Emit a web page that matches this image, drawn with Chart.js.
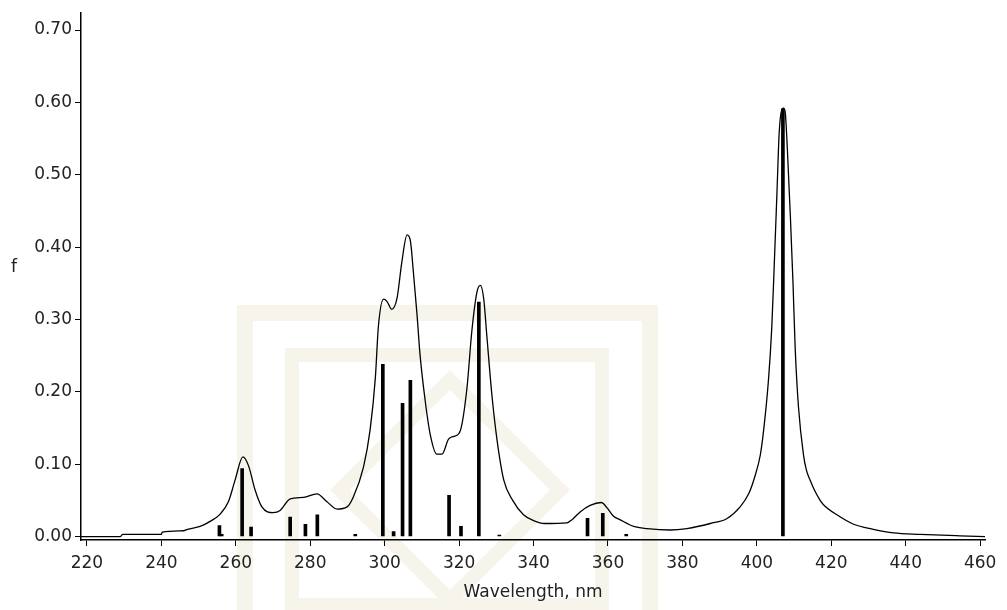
<!DOCTYPE html>
<html>
<head>
<meta charset="utf-8">
<script src="https://cdn.jsdelivr.net/npm/chart.js@4"></script>
<style>
  body { margin: 0; background: #fff; }
  #wrap { width: 1007px; height: 610px; }
</style>
</head>
<body>
<div id="wrap"><canvas id="spectrumChart" width="1007" height="610"></canvas></div>
<script>
// Calculated transitions (sticks): wavelength in nm and oscillator strength f
const stickWavelengths = [255.6, 256.2, 261.7, 264.1, 274.6, 278.7, 281.9, 292.1, 299.5, 302.4,
  304.8, 306.9, 317.3, 320.5, 325.3, 330.8, 354.5, 358.6, 364.9, 407.0];
const stickStrengths = [0.015, 0.003, 0.094, 0.013, 0.027, 0.017, 0.030, 0.003, 0.238, 0.007,
  0.184, 0.216, 0.057, 0.014, 0.324, 0.002, 0.025, 0.032, 0.003, 0.591];

// Broadened envelope
const curveWavelengths = [218.4, 229, 229.6, 240, 240.2, 246, 247, 250.4, 253.1, 255.8,
  258, 259.8, 261.9, 263.4, 265.2, 267, 270, 271.9, 274.6, 278.2,
  281.8, 284.5, 287.2, 289.9, 291.6, 294.3, 296.1, 297.5, 298.3, 299.7,
  300.6, 301.9, 303.3, 304.6, 306.0, 306.9, 307.7, 308.7, 309.5, 310.9,
  312.2, 314.0, 315.4, 317.2, 318.9, 320.3, 322.1, 323.4, 324.8, 325.7,
  326.6, 327.5, 328.8, 330.2, 332.0, 334.4, 337.3, 340.0, 343.0, 349.0,
  350.5, 352.5, 355.2, 358.2, 359.7, 361.5, 363.3, 366.9, 370.5, 376.7,
  381.2, 387.5, 392.0, 395.5, 397.8, 399.4, 400.9, 401.8, 403.1, 404.0,
  404.7, 405.4, 406.0, 406.7, 407.1, 407.6, 408.2, 409.0, 409.7, 410.3,
  411.2, 412.5, 413.3, 414.3, 415.3, 417.0, 417.9, 421.5, 426.0, 431.3,
  436.7, 443.9, 454.6, 461.3];
const curveStrengths = [0.000, 0.000, 0.003, 0.003, 0.006, 0.008, 0.010, 0.014, 0.021, 0.031,
  0.048, 0.078, 0.110, 0.098, 0.064, 0.041, 0.033, 0.036, 0.052, 0.054,
  0.059, 0.048, 0.038, 0.041, 0.055, 0.096, 0.148, 0.220, 0.290, 0.328,
  0.325, 0.314, 0.329, 0.379, 0.417, 0.409, 0.366, 0.306, 0.251, 0.187,
  0.142, 0.114, 0.114, 0.135, 0.139, 0.146, 0.205, 0.283, 0.338, 0.347,
  0.329, 0.274, 0.196, 0.133, 0.078, 0.050, 0.030, 0.022, 0.018, 0.019,
  0.024, 0.034, 0.043, 0.047, 0.040, 0.028, 0.023, 0.014, 0.011, 0.009,
  0.011, 0.018, 0.025, 0.041, 0.059, 0.082, 0.112, 0.146, 0.215, 0.288,
  0.379, 0.475, 0.558, 0.590, 0.592, 0.587, 0.535, 0.443, 0.352, 0.260,
  0.178, 0.114, 0.092, 0.078, 0.066, 0.050, 0.044, 0.030, 0.017, 0.010,
  0.005, 0.003, 0.001, 0.000];

const xTicks = [220, 240, 260, 280, 300, 320, 340, 360, 380, 400, 420, 440, 460];
const yTicks = [0, 0.1, 0.2, 0.3, 0.4, 0.5, 0.6, 0.7];

const sticks = stickWavelengths.map((x, i) => ({ x: x, y: stickStrengths[i] }));
const curve = curveWavelengths.map((x, i) => ({ x: x, y: curveStrengths[i] }));

// faint watermark behind the plot + the unrotated "f" axis label
const decorations = {
  id: 'decorations',
  beforeDraw(chart) {
    const c = chart.ctx;
    c.save();
    c.fillStyle = '#fff';
    c.fillRect(0, 0, chart.width, chart.height);
    c.strokeStyle = '#f7f4ec';
    c.lineWidth = 16;
    c.strokeRect(245, 313, 405, 320);
    c.lineWidth = 14;
    c.strokeRect(292, 355, 310, 250);
    c.beginPath();
    c.moveTo(450, 380); c.lineTo(560, 490); c.lineTo(450, 600); c.lineTo(340, 490); c.closePath();
    c.stroke();
    c.restore();
  },
  afterDraw(chart) {
    const c = chart.ctx;
    c.save();
    c.fillStyle = '#222';
    c.font = '17px "DejaVu Sans"';
    c.textAlign = 'center';
    c.textBaseline = 'middle';
    c.fillText('f', 14, 268);
    c.restore();
  }
};

document.addEventListener('DOMContentLoaded', function () {
  const ctx = document.getElementById('spectrumChart').getContext('2d');
  new Chart(ctx, {
    type: 'line',
    data: {
      datasets: [
        {
          type: 'line',
          label: 'Spectrum',
          data: curve,
          borderColor: '#000',
          borderWidth: 1.3,
          pointRadius: 0,
          cubicInterpolationMode: 'monotone',
          fill: false,
          order: 2
        },
        {
          type: 'bar',
          label: 'Transitions',
          data: sticks,
          backgroundColor: '#000',
          barThickness: 3,
          grouped: false,
          order: 1
        }
      ]
    },
    options: {
      responsive: false,
      animation: false,
      layout: { padding: { top: 9, right: 22, left: 0, bottom: 0 } },
      plugins: {
        legend: { display: false },
        tooltip: { enabled: false }
      },
      scales: {
        x: {
          type: 'linear',
          min: 218.4,
          max: 461.3,
          offset: false,
          afterBuildTicks: s => { s.ticks = xTicks.map(v => ({ value: v })); },
          afterFit: s => { s.height = 70; },
          grid: { offset: false, drawOnChartArea: false, drawTicks: true, tickLength: 6, color: '#000' },
          border: { display: true, color: '#000', width: 1.5 },
          ticks: {
            color: '#222',
            padding: 7,
            maxRotation: 0,
            font: { family: 'DejaVu Sans', size: 17 }
          },
          title: {
            display: true,
            text: 'Wavelength, nm',
            color: '#222',
            font: { family: 'DejaVu Sans', size: 17 },
            padding: { top: 4, bottom: 7 }
          }
        },
        y: {
          type: 'linear',
          min: -0.0048,
          max: 0.7233,
          afterBuildTicks: s => { s.ticks = yTicks.map(v => ({ value: v })); },
          afterFit: s => { s.width = 81; },
          grid: { drawOnChartArea: false, drawTicks: true, tickLength: 6, color: '#000' },
          border: { display: true, color: '#000', width: 1.5 },
          ticks: {
            color: '#222',
            padding: 3,
            font: { family: 'DejaVu Sans', size: 17 },
            callback: v => Number(v).toFixed(2)
          }
        }
      }
    },
    plugins: [decorations]
  });
});
</script>
</body>
</html>
